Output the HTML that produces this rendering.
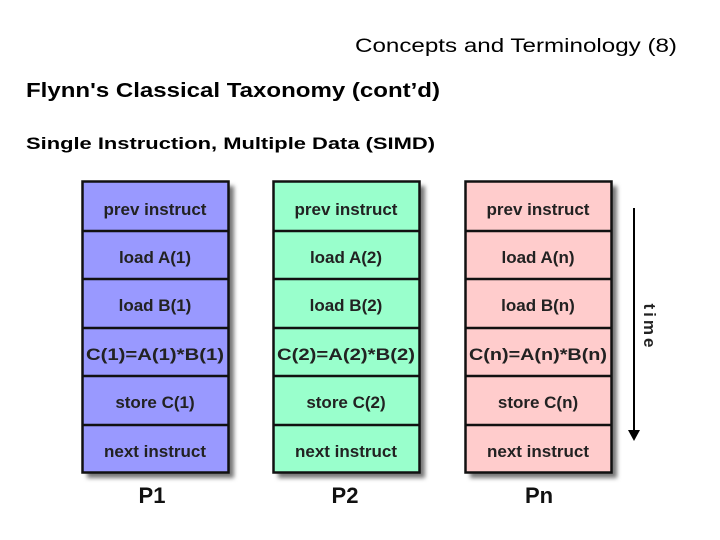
<!DOCTYPE html>
<html><head><meta charset="utf-8"><style>body{margin:0;background:#fff}svg{display:block}</style></head><body>
<svg width="720" height="540" xmlns="http://www.w3.org/2000/svg" font-family="Liberation Sans, Arial, sans-serif">
<defs><filter id="sh" x="-10%" y="-10%" width="130%" height="130%"><feGaussianBlur stdDeviation="2"/></filter></defs>
<text x="355" y="52" font-size="19" textLength="322" lengthAdjust="spacingAndGlyphs">Concepts and Terminology (8)</text>
<text x="26" y="97" font-size="20" font-weight="bold" textLength="414" lengthAdjust="spacingAndGlyphs">Flynn's Classical Taxonomy (cont’d)</text>
<text x="26" y="149" font-size="17" font-weight="bold" textLength="409" lengthAdjust="spacingAndGlyphs">Single Instruction, Multiple Data (SIMD)</text>
<g id="cols" font-weight="bold" font-size="17" fill="#222" text-anchor="middle">
<rect x="87" y="186" width="147" height="292" fill="#777" filter="url(#sh)"/>
<rect x="278" y="186" width="147" height="292" fill="#777" filter="url(#sh)"/>
<rect x="470" y="186" width="147" height="292" fill="#777" filter="url(#sh)"/>
<rect x="82.5" y="181.5" width="146" height="291" fill="#9999ff" stroke="#111" stroke-width="2.5"/>
<rect x="273.5" y="181.5" width="146" height="291" fill="#99ffcc" stroke="#111" stroke-width="2.5"/>
<rect x="465.5" y="181.5" width="146" height="291" fill="#ffcccc" stroke="#111" stroke-width="2.5"/>
<g stroke="#111" stroke-width="2.5">
<line x1="82" x2="229" y1="231" y2="231"/><line x1="82" x2="229" y1="279" y2="279"/><line x1="82" x2="229" y1="328" y2="328"/><line x1="82" x2="229" y1="376" y2="376"/><line x1="82" x2="229" y1="425" y2="425"/>
<line x1="273" x2="420" y1="231" y2="231"/><line x1="273" x2="420" y1="279" y2="279"/><line x1="273" x2="420" y1="328" y2="328"/><line x1="273" x2="420" y1="376" y2="376"/><line x1="273" x2="420" y1="425" y2="425"/>
<line x1="465" x2="612" y1="231" y2="231"/><line x1="465" x2="612" y1="279" y2="279"/><line x1="465" x2="612" y1="328" y2="328"/><line x1="465" x2="612" y1="376" y2="376"/><line x1="465" x2="612" y1="425" y2="425"/>
</g>
<text x="155" y="215">prev instruct</text><text x="155" y="263">load A(1)</text><text x="155" y="311">load B(1)</text><text x="155" y="360" textLength="138" lengthAdjust="spacingAndGlyphs">C(1)=A(1)*B(1)</text><text x="155" y="408">store C(1)</text><text x="155" y="457">next instruct</text>
<text x="346" y="215">prev instruct</text><text x="346" y="263">load A(2)</text><text x="346" y="311">load B(2)</text><text x="346" y="360" textLength="138" lengthAdjust="spacingAndGlyphs">C(2)=A(2)*B(2)</text><text x="346" y="408">store C(2)</text><text x="346" y="457">next instruct</text>
<text x="538" y="215">prev instruct</text><text x="538" y="263">load A(n)</text><text x="538" y="311">load B(n)</text><text x="538" y="360" textLength="138" lengthAdjust="spacingAndGlyphs">C(n)=A(n)*B(n)</text><text x="538" y="408">store C(n)</text><text x="538" y="457">next instruct</text>
<g font-size="22" fill="#111"><text x="152" y="503">P1</text><text x="345" y="503">P2</text><text x="539" y="503">Pn</text></g>
</g>
<line x1="634" y1="208" x2="634" y2="432" stroke="#000" stroke-width="2"/>
<polygon points="628,430 640,430 634,441" fill="#000"/>
<text transform="translate(644,327) rotate(90)" font-size="17" font-weight="bold" fill="#222" text-anchor="middle" letter-spacing="3">time</text>
</svg>
</body></html>
